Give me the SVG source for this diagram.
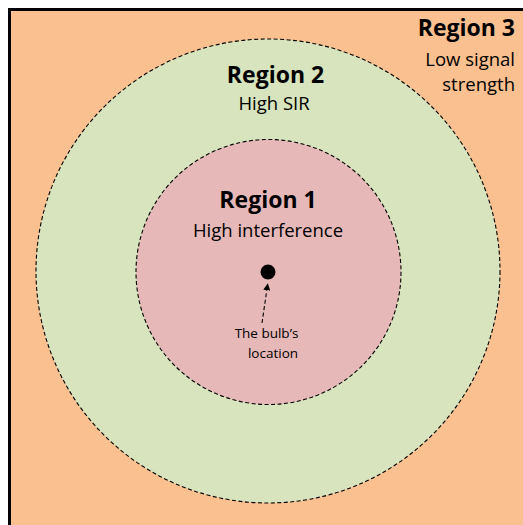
<svg xmlns="http://www.w3.org/2000/svg" width="523" height="525" viewBox="0 0 523 525">
<style>
.zone{stroke:#000;stroke-width:1.1;stroke-dasharray:4 2.5}
.t{font-family:"Open Sans","Liberation Sans",sans-serif;fill:#000}
.b{font-weight:bold;font-size:23px}
.n{font-size:18.5px}
.s{font-size:13.5px}
</style>
<defs>
<marker id="ah" viewBox="0 0 10 10" refX="9" refY="5" markerWidth="7" markerHeight="7" orient="auto" markerUnits="userSpaceOnUse">
<path d="M0,0 L10,5 L0,10 z" fill="#000"/>
</marker>
</defs>
<g id="region3">
<rect x="9.5" y="9.5" width="530" height="530" fill="#FAC090" stroke="#000" stroke-width="3"/>
<text class="t b" x="515" y="36" text-anchor="end">Region 3</text>
<text class="t n" x="515" y="66" text-anchor="end">Low signal</text>
<text class="t n" x="515" y="91" text-anchor="end">strength</text>
</g>
<g id="region2">
<circle class="zone" cx="268" cy="271" r="232" fill="#D7E4BD"/>
<text class="t b" x="275.5" y="83" text-anchor="middle">Region 2</text>
<text class="t n" x="274" y="110" text-anchor="middle">High SIR</text>
</g>
<g id="region1">
<circle class="zone" cx="268.5" cy="272" r="132.5" fill="#E6B9B8"/>
<text class="t b" x="268" y="208" text-anchor="middle">Region 1</text>
<text class="t n" x="268" y="237" text-anchor="middle">High interference</text>
</g>
<g id="bulb">
<circle cx="268" cy="272" r="7.5" fill="#000"/>
<text class="t s" x="266.5" y="338" text-anchor="middle">The bulb’s</text>
<text class="t s" x="273" y="358" text-anchor="middle">location</text>
</g>
<g id="connectors">
<line x1="262" y1="323" x2="267.7" y2="284" stroke="#000" stroke-width="1.1" stroke-dasharray="4 2.5" marker-end="url(#ah)"/>
</g>
</svg>
